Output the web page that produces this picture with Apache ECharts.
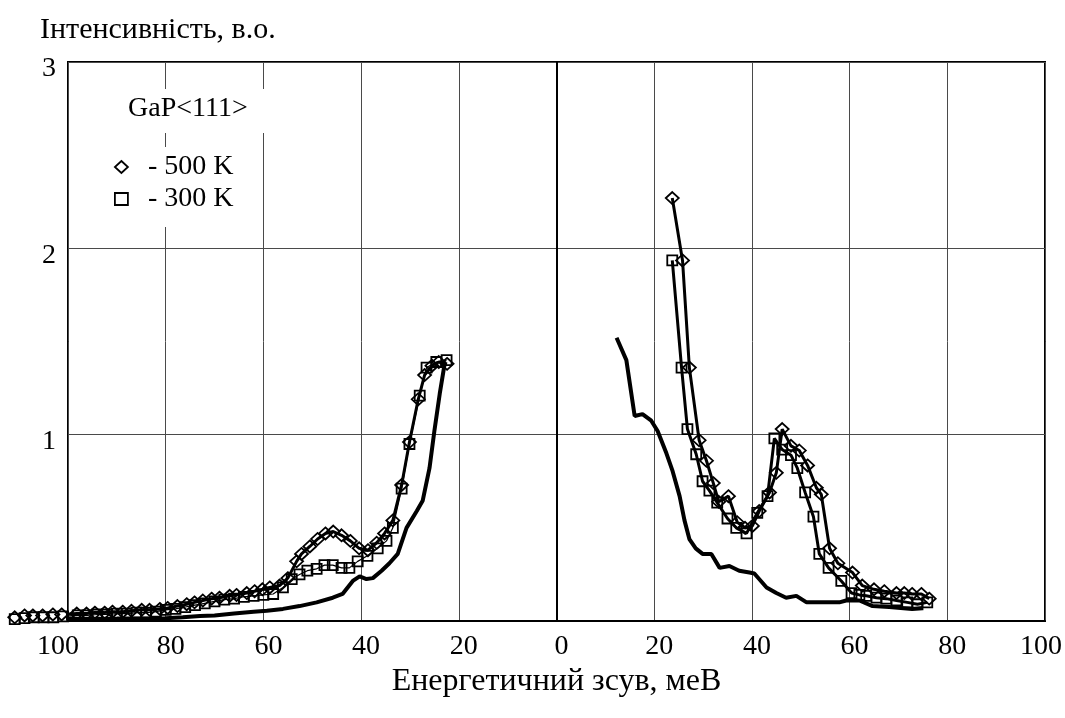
<!DOCTYPE html>
<html>
<head>
<meta charset="utf-8">
<title>GaP&lt;111&gt;</title>
<script src="https://cdn.jsdelivr.net/npm/echarts@6/dist/echarts.min.js"></script>
<style>
  html, body { margin: 0; padding: 0; background: #fff; }
  #chart { width: 1065px; height: 718px; }
</style>
</head>
<body>
<div id="chart"></div>
<script>
// [energy shift meV (anti-Stokes side < 0), intensity a.u.]
let t500Left = [
  [-110.9, 0.02], [-108.9, 0.03], [-107.2, 0.03], [-105.2, 0.03], [-103.1, 0.035], [-101.3, 0.035],
  [-98.2, 0.04], [-96.2, 0.04], [-94.5, 0.045], [-92.5, 0.045], [-90.9, 0.05], [-88.8, 0.05],
  [-87, 0.055], [-84.9, 0.06], [-83.3, 0.06], [-81.2, 0.065], [-79.6, 0.07], [-77.6, 0.08],
  [-75.7, 0.09], [-74.1, 0.1], [-72.4, 0.11], [-70.6, 0.12], [-69, 0.125], [-66.9, 0.135],
  [-65.5, 0.14], [-63.4, 0.15], [-61.8, 0.16], [-60.2, 0.17], [-58.7, 0.18], [-56.7, 0.19],
  [-55, 0.23], [-53.2, 0.32], [-52.2, 0.36], [-50.5, 0.40], [-48.9, 0.44], [-47.3, 0.47],
  [-45.7, 0.48], [-44, 0.46], [-42.2, 0.43], [-40.4, 0.39], [-38.6, 0.38], [-36.8, 0.42],
  [-35.2, 0.47], [-33.5, 0.54], [-31.7, 0.73], [-30.1, 0.96], [-28.3, 1.19], [-27, 1.32],
  [-25.5, 1.37], [-24.1, 1.39], [-22.4, 1.38]
];
let t300Left = [
  [-110.9, 0.01], [-108.9, 0.015], [-107, 0.02], [-105, 0.02], [-103, 0.02], [-101, 0.025],
  [-98, 0.03], [-96, 0.03], [-94, 0.035], [-92, 0.035], [-90, 0.04], [-88, 0.04],
  [-86, 0.045], [-84, 0.045], [-82, 0.05], [-80, 0.06], [-78, 0.065], [-76, 0.075],
  [-74, 0.085], [-72, 0.095], [-70, 0.105], [-68, 0.115], [-66, 0.12], [-64, 0.13],
  [-62, 0.135], [-60, 0.14], [-58, 0.145], [-56, 0.18], [-54.2, 0.225], [-52.6, 0.25],
  [-51, 0.27], [-49.1, 0.28], [-47.5, 0.30], [-45.8, 0.30], [-44, 0.285], [-42.4, 0.285],
  [-40.7, 0.32], [-38.7, 0.35], [-36.6, 0.39], [-34.8, 0.43], [-33.5, 0.50], [-31.7, 0.71],
  [-30.1, 0.95], [-28, 1.21], [-26.6, 1.36], [-24.6, 1.39], [-22.5, 1.40]
];
let plainLeft = [
  [-111, 0.01], [-100, 0.012], [-90, 0.013], [-80, 0.015], [-76.5, 0.02], [-73, 0.027],
  [-70, 0.03], [-66, 0.04], [-62, 0.05], [-59.3, 0.055], [-56, 0.065], [-52.6, 0.08],
  [-49.1, 0.1], [-45.8, 0.125], [-43.8, 0.145], [-41.7, 0.215], [-40.3, 0.24], [-38.9, 0.225],
  [-37.6, 0.23], [-35.8, 0.27], [-34.2, 0.31], [-32.5, 0.36], [-30.7, 0.5], [-28.6, 0.59],
  [-27.4, 0.645], [-26, 0.82], [-25, 1.02], [-23.9, 1.22], [-22.9, 1.38]
];
let t500Right = [
  [23.7, 2.27], [25.8, 1.935], [27.2, 1.36], [29.2, 0.97], [30.7, 0.86], [32.1, 0.74],
  [33.2, 0.64], [35.2, 0.67], [37, 0.53], [38.6, 0.50], [40.1, 0.51], [41.5, 0.59],
  [43.6, 0.69], [45, 0.795], [46.2, 1.03], [48, 0.94], [49.7, 0.915], [51.4, 0.835],
  [53.2, 0.715], [54.2, 0.68], [55.9, 0.39], [57.6, 0.31], [60.6, 0.26], [62.6, 0.19],
  [65, 0.17], [67.1, 0.16], [69.6, 0.15], [71.2, 0.15], [72.8, 0.145], [74.7, 0.145],
  [76.3, 0.12]
];
let t300Right = [
  [23.7, 1.935], [25.6, 1.36], [26.8, 1.03], [28.6, 0.895], [29.9, 0.75], [31.3, 0.70],
  [32.9, 0.635], [35, 0.55], [36.8, 0.50], [38.9, 0.47], [41.1, 0.58], [43.2, 0.67],
  [44.6, 0.98], [46.2, 0.92], [48, 0.89], [49.3, 0.82], [50.9, 0.69], [52.6, 0.56],
  [53.8, 0.36], [55.7, 0.285], [58.3, 0.215], [60.4, 0.15], [62, 0.14], [63.4, 0.135],
  [65.5, 0.125], [67.5, 0.12], [69.6, 0.11], [71.8, 0.10], [73.9, 0.09], [75.9, 0.10]
];
let plainRight = [
  [12.3, 1.52], [14.3, 1.40], [16, 1.10], [17.6, 1.11], [19.4, 1.075], [20.7, 1.02],
  [22.5, 0.90], [23.7, 0.81], [25.2, 0.67], [26.2, 0.54], [27.2, 0.44], [28.5, 0.39],
  [29.9, 0.36], [31.7, 0.36], [33.4, 0.285], [35.4, 0.295], [37.4, 0.27], [39.5, 0.26],
  [40.5, 0.255], [43, 0.18], [45, 0.15], [47, 0.125], [49.1, 0.135], [51.2, 0.10],
  [57.9, 0.10], [59.3, 0.11], [62, 0.11], [64.7, 0.08], [68.1, 0.075], [72.8, 0.065],
  [74.9, 0.07]
];

let serif = "'Liberation Serif', 'Times New Roman', serif";
let hollow = { color: 'rgba(0,0,0,0)', borderColor: '#000', borderWidth: 1.8 };

function markerSeries(name, data, symbol, size, width) {
  return {
    name: name,
    type: 'line',
    data: data,
    symbol: symbol,
    symbolSize: size,
    showAllSymbol: true,
    clip: false,
    lineStyle: { color: '#000', width: width },
    itemStyle: hollow
  };
}

function plainSeries(name, data) {
  return {
    name: name,
    type: 'line',
    data: data,
    showSymbol: false,
    clip: false,
    lineStyle: { color: '#000', width: 4 }
  };
}

let chart = echarts.init(document.getElementById('chart'));
let zeroLine = plainSeries('plainRight', plainRight);
zeroLine.markLine = {
  silent: true,
  symbol: 'none',
  label: { show: false },
  lineStyle: { color: '#000', width: 2, type: 'solid' },
  data: [{ xAxis: 0 }]
};

chart.setOption({
  animation: false,
  backgroundColor: '#fff',
  title: {
    text: 'Інтенсивність, в.о.',
    left: 35,
    top: 10,
    textStyle: { fontFamily: serif, fontSize: 30, fontWeight: 'normal', color: '#000' }
  },
  grid: { left: 68, right: 20, top: 62, bottom: 97, show: true, borderColor: '#000', borderWidth: 2 },
  legend: {
    orient: 'vertical',
    left: 104,
    top: 147,
    padding: [6, 28, 14, 10],
    itemGap: 4,
    itemWidth: 13,
    itemHeight: 12,
    selectedMode: false,
    backgroundColor: '#fff',
    formatter: name => '- ' + name,
    textStyle: { fontFamily: serif, fontSize: 28, color: '#000', padding: [0, 0, 0, 15] },
    data: [
      { name: '500 K', icon: 'diamond', itemStyle: { color: '#fff', borderColor: '#000', borderWidth: 1.8 } },
      { name: '300 K', icon: 'rect', itemStyle: { color: '#fff', borderColor: '#000', borderWidth: 1.8 } }
    ]
  },
  graphic: [
    { type: 'rect', z: 5, shape: { x: 118, y: 89, width: 150, height: 44 }, style: { fill: '#fff' } },
    {
      type: 'text', z: 6, left: 128, top: 95,
      style: { text: 'GaP<111>', font: '28px ' + serif, fill: '#000' }
    }
  ],
  xAxis: {
    type: 'value',
    min: -100,
    max: 100,
    interval: 20,
    name: 'Енергетичний зсув, меВ',
    nameLocation: 'middle',
    nameGap: 35,
    nameTextStyle: { fontFamily: serif, fontSize: 32, color: '#000' },
    axisLine: { lineStyle: { color: '#000', width: 2 } },
    axisTick: { show: false },
    splitLine: { lineStyle: { color: '#4a4a4a', width: 1 } },
    axisLabel: {
      margin: 12,
      showMinLabel: true,
      showMaxLabel: true,
      formatter: v => {
        if (v === -100) return '{l|100}';
        if (v === 100) return '{r|100}';
        return '{n|' + Math.abs(v) + '}';
      },
      rich: {
        n: { fontFamily: serif, fontSize: 28, color: '#000', padding: [0, 0, 0, 10] },
        l: { fontFamily: serif, fontSize: 28, color: '#000', padding: [0, 20, 0, 0] },
        r: { fontFamily: serif, fontSize: 28, color: '#000', padding: [0, 8, 0, 0] }
      }
    }
  },
  yAxis: {
    type: 'value',
    min: 0,
    max: 3,
    interval: 1,
    axisLine: { show: true, lineStyle: { color: '#000', width: 2 } },
    axisTick: { show: false },
    splitLine: { lineStyle: { color: '#4a4a4a', width: 1 } },
    axisLabel: {
      margin: 12,
      formatter: v => (v === 0 ? '' : '{d|' + v + '}'),
      rich: {
        d: { fontFamily: serif, fontSize: 28, color: '#000', padding: [14, 0, 0, 0] }
      }
    }
  },
  series: [
    plainSeries('plainLeft', plainLeft),
    zeroLine,
    markerSeries('300 K', t300Left, 'rect', 10, 1.2),
    markerSeries('500 K', t500Left, 'diamond', [13, 12], 3),
    markerSeries('300 K', t300Right, 'rect', 10, 3),
    markerSeries('500 K', t500Right, 'diamond', [13, 12], 3)
  ]
});
</script>
</body>
</html>
